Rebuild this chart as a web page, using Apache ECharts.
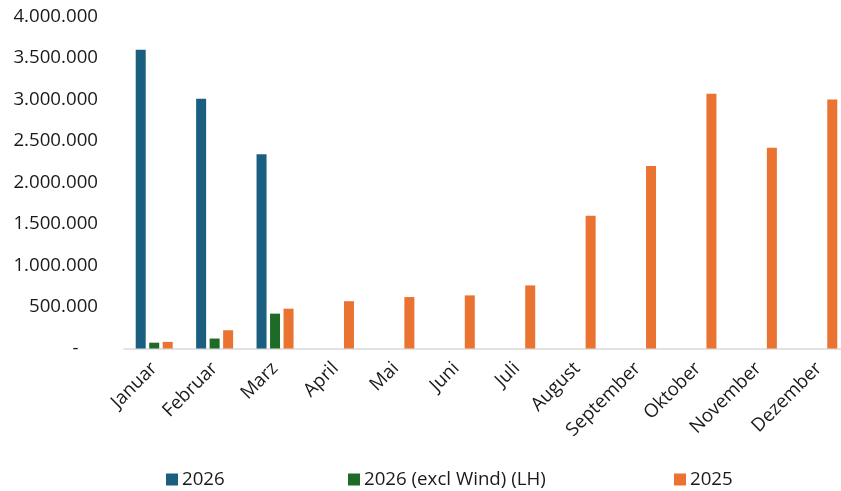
<!DOCTYPE html>
<html>
<head>
<meta charset="utf-8">
<script src="https://cdn.jsdelivr.net/npm/echarts@6/dist/echarts.min.js"></script>
<style>
html,body{margin:0;padding:0;background:#fff;}
#chart{width:841px;height:491px;}
</style>
</head>
<body>
<div id="chart"></div>
<script>
const categories = ['Januar','Februar','Marz','April','Mai','Juni','Juli','August','September','Oktober','November','Dezember'];
const seriesNames = ['2026','2026 (excl Wind) (LH)','2025'];
const values2026 = [3600000, 3010000, 2340000, null, null, null, null, null, null, null, null, null];
const values2026exWind = [70000, 120000, 420000, null, null, null, null, null, null, null, null, null];
const values2025 = [80000, 220000, 480000, 570000, 620000, 640000, 760000, 1600000, 2200000, 3070000, 2420000, 3000000];
const yTicks = [0, 500000, 1000000, 1500000, 2000000, 2500000, 3000000, 3500000, 4000000];

const colors = ['#1B5F80', '#1E6B27', '#EA7332'];
const FONT = 'Open Sans';
const FS = 18.7;
const TXT = '#1a1a1a';

function fmt(v) {
  if (v === 0) return '-    ';
  return String(v).replace(/\B(?=(\d{3})+(?!\d))/g, '.');
}

const chart = echarts.init(document.getElementById('chart'), null, {renderer: 'canvas'});
const legendPos = [166, 348, 674];
chart.setOption({
  animation: false,
  color: colors,
  grid: {left: 124, right: -8, top: 16.5, bottom: 142.5, containLabel: false, outerBoundsMode: 'none'},
  legend: seriesNames.map((n, i) => ({
    data: [n], left: legendPos[i], top: 470, padding: 0, itemWidth: 12, itemHeight: 12, itemGap: 0,
    icon: 'rect', textStyle: {fontFamily: FONT, fontSize: FS, color: TXT, padding: [0,0,0,-1]}
  })),
  xAxis: {
    type: 'category', data: categories,
    axisLine: {lineStyle: {color: '#d9d9d9', width: 1.5}},
    axisTick: {show: false},
    axisLabel: {rotate: 45, interval: 0, margin: 17, fontFamily: FONT, fontSize: FS, color: TXT}
  },
  yAxis: {
    type: 'value', min: yTicks[0], max: yTicks[yTicks.length-1], interval: yTicks[1]-yTicks[0],
    splitLine: {show: false}, axisLine: {show: false}, axisTick: {show: false},
    axisLabel: {formatter: fmt, margin: 26, fontFamily: FONT, fontSize: FS, color: TXT}
  },
  series: [
    {name: seriesNames[0], type: 'bar', data: values2026, barWidth: 10, barGap: '35%'},
    {name: seriesNames[1], type: 'bar', data: values2026exWind, barWidth: 10, barGap: '35%'},
    {name: seriesNames[2], type: 'bar', data: values2025, barWidth: 10, barGap: '35%'}
  ]
});
</script>
</body>
</html>
